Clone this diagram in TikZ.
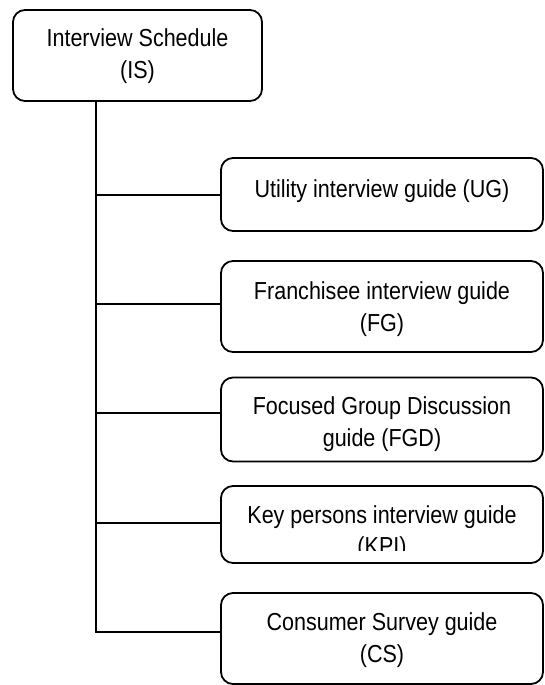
\documentclass[tikz,border=0pt]{standalone}
\usepackage{fontspec}
\newfontfamily\diafont{Liberation Sans}[FakeStretch=0.875]
\begin{document}
\begin{tikzpicture}[x=1pt,y=-1pt,
  box/.style={draw=black, line width=1.8pt, rounded corners=12pt, inner sep=0pt, minimum width=322pt},
  topbox/.style={box, minimum width=249pt, minimum height=91pt},
  txt/.style={inner sep=0pt, align=center, font=\diafont\fontsize{24.6}{31.5}\selectfont},
  conn/.style={draw=black, line width=2pt}]
\useasboundingbox (0,0) rectangle (545,685);

% boxes
\node[topbox] (IS) at (137.5,55.5) {};
\node[box, minimum height=73pt] (UG) at (382,194.5) {};
\node[box, minimum height=91pt] (FG) at (382,306.5) {};
\node[box, minimum height=84pt] (FGD) at (382,419.5) {};
\node[box, minimum height=77pt] (KPI) at (382,524.5) {};
\node[box, minimum height=91pt] (CS) at (382,638.5) {};

% texts
\node[txt, yshift=-0.5pt] (IStext) at (IS) {Interview Schedule\\(IS)};
\node[txt, yshift=3pt] (UGtext) at (UG) {Utility interview guide (UG)};
\node[txt, yshift=-2.7pt] (FGtext) at (FG) {Franchisee interview guide\\(FG)};
\node[txt, yshift=-4.7pt] (FGDtext) at (FGD) {Focused Group Discussion\\guide (FGD)};
\begin{scope}
  \clip (KPI.north west) rectangle ([yshift=13pt]KPI.south east);
  \node[txt, yshift=-8pt] (KPItext) at (KPI) {Key persons interview guide\\(KPI)};
\end{scope}
\node[txt, yshift=-1.5pt] (CStext) at (CS) {Consumer Survey guide\\(CS)};

% connector attachment points
\coordinate (trunk) at (96,0);
\coordinate (UGin) at ([yshift=-0.5pt]UG.west);
\coordinate (FGin) at ([yshift=2.5pt]FG.west);
\coordinate (FGDin) at ([yshift=6.5pt]FGD.west);
\coordinate (KPIin) at ([yshift=1.5pt]KPI.west);
\coordinate (CSin) at ([yshift=6.5pt]CS.west);

% connectors
\draw[conn] (IS.south -| trunk) |- (CSin);
\draw[conn] (trunk |- UGin) -- (UGin);
\draw[conn] (trunk |- FGin) -- (FGin);
\draw[conn] (trunk |- FGDin) -- (FGDin);
\draw[conn] (trunk |- KPIin) -- (KPIin);
\end{tikzpicture}
\end{document}
